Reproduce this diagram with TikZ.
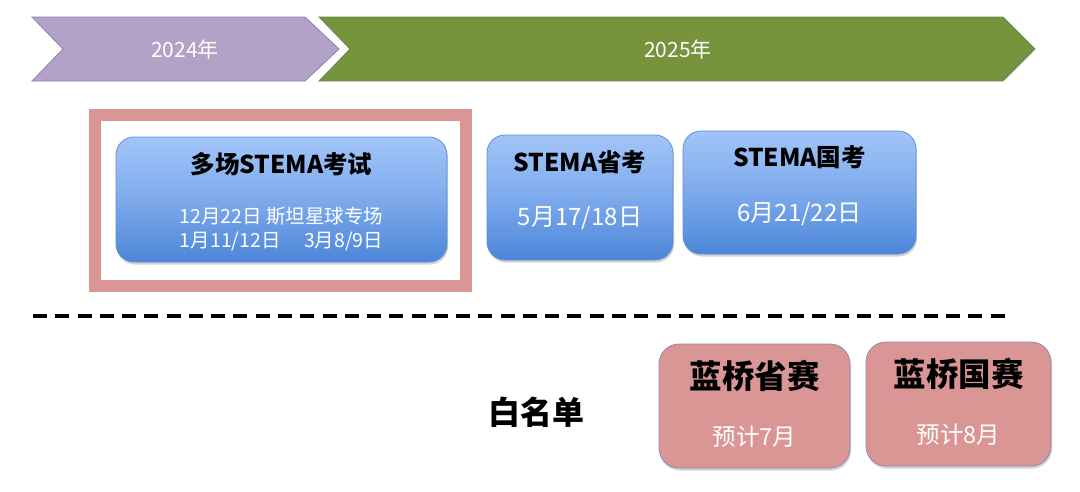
\documentclass[tikz,border=0pt]{standalone}
\usepackage{fontspec}
\setmainfont{Noto Sans CJK SC}
\usetikzlibrary{shadows}
\definecolor{purp}{HTML}{B3A2C7}
\definecolor{purpedge}{HTML}{8E80B0}
\definecolor{grn}{HTML}{77933C}
\definecolor{grnedge}{HTML}{6A8A5A}
\definecolor{pinkc}{HTML}{D99694}
\definecolor{pinkedge}{HTML}{8F8AAE}
\definecolor{bluetop}{HTML}{A2C5F8}
\definecolor{bluemid}{HTML}{7EAAEC}
\definecolor{bluebot}{HTML}{4B86D8}
\definecolor{blueedge}{HTML}{5E8FD3}
\tikzset{
  chev/.style={line width=0.8pt, line join=miter},
  bluebox/.style={draw=blueedge, line width=0.8pt, rounded corners=18pt,
    top color=bluetop, bottom color=bluebot, middle color=bluemid, inner sep=0pt,
    drop shadow={opacity=0.35, shadow xshift=1pt, shadow yshift=-2.5pt}},
  pinkbox/.style={draw=pinkedge, fill=pinkc, line width=0.8pt, rounded corners=20pt, inner sep=0pt,
    drop shadow={opacity=0.35, shadow xshift=1pt, shadow yshift=-2.5pt}},
  ttl/.style={font=\fontsize{24.5}{28}\selectfont\bfseries, text=black},
  dat/.style={font=\fontsize{24}{28}\selectfont, text=white},
  yeartxt/.style={font=\fontsize{21}{25}\selectfont, text=white},
  bigttl/.style={font=\fontsize{32.5}{38}\selectfont\bfseries, text=black},
  smalldat/.style={font=\fontsize{23.5}{28}\selectfont, text=white},
}
\begin{document}
\begin{tikzpicture}[x=1pt,y=-1pt]
\useasboundingbox (0,0) rectangle (1080,491);
\fill[white] (0,0) rectangle (1080,491);
% timeline chevrons
\filldraw[chev, fill=purp, draw=purpedge] (32,17) -- (305,17) -- (339,49) -- (305,81) -- (32,81) -- (63,49) -- cycle;
\filldraw[chev, fill=grn, draw=grnedge] (319,17) -- (1003,17) -- (1035,49) -- (1003,81) -- (319,81) -- (350,49) -- cycle;
\node[yeartxt] (y24) at (185,49) {2024年};
\node[yeartxt] (y25) at (678,49) {2025年};
% highlight frame
\draw[pinkc, line width=12pt] (95,115) rectangle (466,286);
% blue boxes
\node[bluebox, minimum width=331pt, minimum height=125pt] (b1) at (281.5,199.5) {};
\node[ttl] (b1t) at (281.5,164) {多场STEMA考试};
\node[dat, font=\fontsize{19.5}{24}\selectfont, align=center] (b1d) at (281.5,229) {12月22日 斯坦星球专场\\1月11/12日\hspace{1.2em}3月8/9日};
\node[bluebox, minimum width=186pt, minimum height=125pt] (b2) at (580,197.5) {};
\node[ttl] (b2t) at (580,162) {STEMA省考};
\node[dat] (b2d) at (580,218) {5月17/18日};
\node[bluebox, minimum width=233pt, minimum height=123pt] (b3) at (799.5,192.5) {};
\node[ttl] (b3t) at (799.5,157) {STEMA国考};
\node[dat] (b3d) at (799.5,214) {6月21/22日};
% dashed separator
\coordinate (dl) at (33,316);
\coordinate (dr) at (1005,316);
\draw[line width=3.2pt, dash pattern=on 14pt off 8.27pt] (dl) -- (dr);
% white list
\node[font=\fontsize{32}{38}\selectfont\bfseries] (wl) at (536,412) {白名单};
\node[pinkbox, minimum width=191pt, minimum height=124pt] (p1) at (754.5,406) {};
\node[bigttl] (p1t) at (754.5,376) {蓝桥省赛};
\node[smalldat] (p1d) at (754.5,437) {预计7月};
\node[pinkbox, minimum width=185pt, minimum height=124pt] (p2) at (958.5,404) {};
\node[bigttl] (p2t) at (958.5,374) {蓝桥国赛};
\node[smalldat] (p2d) at (958.5,435) {预计8月};
\end{tikzpicture}
\end{document}
